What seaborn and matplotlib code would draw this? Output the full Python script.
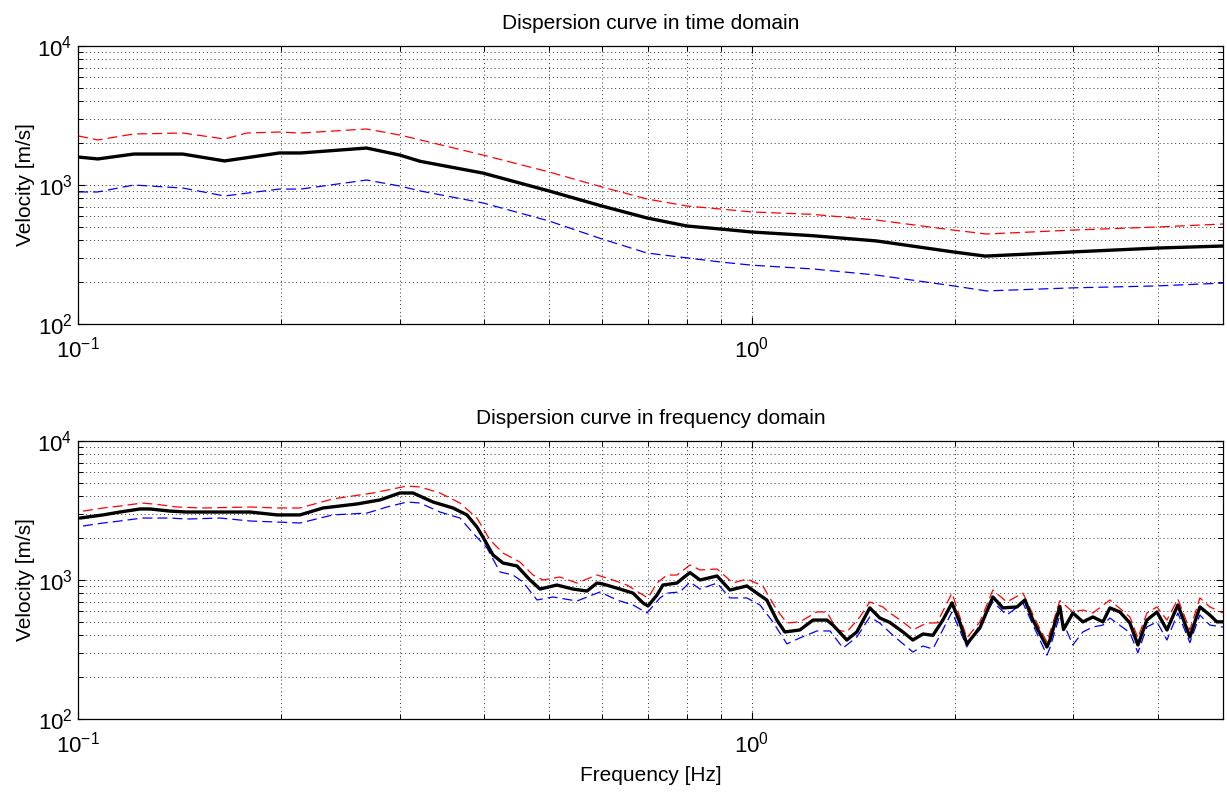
import numpy as np
import pandas as pd
import matplotlib
matplotlib.use("Agg")
import matplotlib.pyplot as plt
import matplotlib.ticker as mticker
import seaborn as sns

# ---------------- data: time domain ----------------
time_mean_f = [0.1, 0.107, 0.121, 0.143, 0.165, 0.199, 0.214, 0.268, 0.300, 0.322,
               0.399, 0.500, 0.599, 0.699, 0.801, 0.900, 1.0, 1.23, 1.53, 1.99,
               2.22, 2.99, 4.0, 5.0]
time_mean_v = [1590, 1540, 1670, 1670, 1490, 1700, 1700, 1845, 1643, 1480,
               1218, 906, 706, 579, 507, 482, 459, 432, 396, 330,
               308, 330, 352, 364]

time_upper_f = [0.1, 0.107, 0.121, 0.143, 0.165, 0.178, 0.199, 0.214, 0.268, 0.300,
                0.322, 0.399, 0.500, 0.599, 0.699, 0.801, 0.900, 1.0, 1.23, 1.53,
                1.99, 2.23, 2.99, 4.0, 5.0]
time_upper_v = [2256, 2110, 2328, 2366, 2143, 2366, 2405, 2366, 2529, 2290,
                2110, 1643, 1241, 968, 793, 706, 671, 640, 615, 560,
                474, 444, 474, 499, 524]

time_lower_f = [0.1, 0.107, 0.121, 0.143, 0.165, 0.199, 0.214, 0.268, 0.300, 0.322,
                0.399, 0.500, 0.599, 0.699, 0.801, 0.900, 1.0, 1.23, 1.53, 1.99,
                2.23, 2.99, 4.0, 5.0]
time_lower_v = [891, 891, 1000, 951, 834, 935, 935, 1086, 984, 906,
                743, 551, 409, 324, 299, 279, 265, 249, 225, 188,
                173, 182, 188, 197]

# ---------------- data: frequency domain ----------------
freq_mean_f = [0.1007, 0.1089, 0.1154, 0.1236, 0.1279, 0.1369, 0.1451, 0.1570, 0.1800, 0.1974,
               0.2135, 0.2309, 0.2594, 0.2807, 0.3004, 0.3141, 0.3363, 0.3601, 0.3777, 0.3908,
               0.3989, 0.4128, 0.4272, 0.4481, 0.4685, 0.4848, 0.5135, 0.5425, 0.5692, 0.5889,
               0.6011, 0.6371, 0.6660, 0.6892, 0.7011, 0.7230, 0.7379, 0.7741, 0.7901, 0.8093,
               0.8375, 0.8877, 0.9276, 0.9830, 1.017, 1.052, 1.089, 1.119, 1.178, 1.232,
               1.292, 1.319, 1.383, 1.431, 1.496, 1.548, 1.602, 1.675, 1.733, 1.794,
               1.856, 1.920, 1.981, 2.036, 2.084, 2.179, 2.278, 2.357, 2.473, 2.541,
               2.612, 2.740, 2.768, 2.864, 2.90, 2.994, 3.098, 3.206, 3.318, 3.398,
               3.516, 3.638, 3.739, 3.856, 3.990, 4.129, 4.286, 4.466, 4.621, 4.781,
               4.897, 4.998]
freq_mean_v = [2790, 2939, 3083, 3243, 3243, 3131, 3083, 3083, 3083, 2939,
               2939, 3296, 3524, 3767, 4226, 4226, 3640, 3296, 2939, 2405,
               2037, 1514, 1325, 1262, 1000, 861, 920, 861, 833, 951,
               935, 861, 805, 684, 650, 780, 920, 951, 1033, 1130,
               1000, 1069, 847, 906, 805, 718, 515, 423, 437, 515,
               515, 474, 370, 423, 630, 533, 495, 423, 370, 409,
               400, 515, 684, 491, 347, 452, 755, 630, 640, 718,
               515, 330, 370, 645, 440, 579, 500, 542, 500, 630,
               589, 491, 341, 515, 589, 437, 661, 389, 640, 560,
               500, 500]

freq_upper_f = [0.1017, 0.1089, 0.1154, 0.1245, 0.1310, 0.1402, 0.1532, 0.1800, 0.1974, 0.2135,
                0.2389, 0.2740, 0.3077, 0.3217, 0.3444, 0.3688, 0.3908, 0.4086, 0.4272, 0.4527,
                0.4733, 0.4897, 0.5188, 0.5500, 0.5889, 0.6157, 0.6525, 0.6892, 0.7011, 0.7230,
                0.7482, 0.7741, 0.8093, 0.8375, 0.8877, 0.9371, 0.9830, 1.038, 1.089, 1.127,
                1.178, 1.249, 1.292, 1.337, 1.383, 1.446, 1.496, 1.564, 1.602, 1.675,
                1.733, 1.818, 1.882, 1.981, 2.084, 2.179, 2.278, 2.389, 2.524, 2.648,
                2.740, 2.864, 2.994, 3.098, 3.206, 3.398, 3.638, 3.739, 3.856, 3.990,
                4.129, 4.286, 4.466, 4.621, 4.781, 4.998]
freq_upper_v = [3131, 3296, 3404, 3578, 3500, 3350, 3296, 3350, 3296, 3296,
                3831, 4226, 4744, 4668, 4226, 3578, 2790, 1941, 1563, 1346,
                1086, 1000, 1051, 951, 1086, 1017, 920, 780, 743, 951,
                1086, 1086, 1282, 1181, 1200, 951, 1017, 906, 608, 491,
                500, 589, 589, 437, 423, 542, 695, 640, 579, 500,
                437, 491, 491, 805, 383, 500, 847, 695, 805, 491,
                358, 710, 589, 608, 579, 718, 542, 383, 579, 640,
                515, 729, 437, 743, 640, 579]

freq_lower_f = [0.1017, 0.1089, 0.1154, 0.1245, 0.1369, 0.1451, 0.1624, 0.1800, 0.1974, 0.2135,
                0.2389, 0.2685, 0.2874, 0.3077, 0.3217, 0.3444, 0.3688, 0.3855, 0.4044, 0.4228,
                0.4420, 0.4574, 0.4798, 0.5066, 0.5500, 0.5950, 0.6306, 0.6660, 0.6987, 0.7304,
                0.7482, 0.7821, 0.8093, 0.8375, 0.8877, 0.9276, 0.9830, 1.028, 1.074, 1.127,
                1.178, 1.249, 1.306, 1.365, 1.431, 1.496, 1.548, 1.619, 1.733, 1.794,
                1.856, 1.981, 2.084, 2.278, 2.389, 2.524, 2.740, 2.768, 2.864, 2.994,
                3.098, 3.206, 3.318, 3.398, 3.638, 3.739, 3.856, 3.990, 4.129, 4.286,
                4.466, 4.621, 4.781, 4.998]
freq_lower_v = [2445, 2570, 2657, 2790, 2790, 2745, 2790, 2657, 2612, 2570,
                2939, 3032, 3350, 3640, 3578, 3083, 2790, 2178, 1700, 1143,
                1086, 967, 718, 755, 706, 820, 718, 661, 579, 743,
                805, 820, 967, 860, 951, 743, 743, 661, 500, 347,
                383, 430, 430, 324, 389, 542, 490, 400, 303, 335,
                319, 589, 330, 695, 560, 684, 288, 324, 560, 341,
                423, 459, 474, 533, 418, 300, 459, 500, 370, 579,
                354, 560, 474, 459]

titles = ["Dispersion curve in time domain", "Dispersion curve in frequency domain"]
y_label = "Velocity [m/s]"
x_label = "Frequency [Hz]"

# ---------------- style ----------------
sns.set_theme(style="white")
plt.rcParams["font.family"] = ["Liberation Sans", "DejaVu Sans"]
plt.rcParams["axes.edgecolor"] = "black"
plt.rcParams["axes.linewidth"] = 0.9

fig = plt.figure(figsize=(12.27, 7.93), dpi=100)
ax_top = fig.add_axes([0.0636, 0.5914, 0.9331, 0.3506])
ax_bot = fig.add_axes([0.0636, 0.0933, 0.9331, 0.3506])

panels = [
    (ax_top, (time_mean_f, time_mean_v), (time_upper_f, time_upper_v), (time_lower_f, time_lower_v)),
    (ax_bot, (freq_mean_f, freq_mean_v), (freq_upper_f, freq_upper_v), (freq_lower_f, freq_lower_v)),
]


def log_label(val, pos):
    if val <= 0:
        return ""
    e = int(round(np.log10(val)))
    if abs(10 ** e - val) / val > 1e-6:
        return ""
    return r"$\mathregular{10^{%d}}$" % e


for i, (ax, mean, upper, lower) in enumerate(panels):
    ax.set_xscale("log")
    ax.set_yscale("log")
    df_u = pd.DataFrame({"f": upper[0], "v": upper[1]})
    df_l = pd.DataFrame({"f": lower[0], "v": lower[1]})
    df_m = pd.DataFrame({"f": mean[0], "v": mean[1]})
    sns.lineplot(data=df_u, x="f", y="v", ax=ax, color="#ff0000", lw=0.9,
                 linestyle=(0, (8, 4)), estimator=None, sort=True)
    sns.lineplot(data=df_l, x="f", y="v", ax=ax, color="#0000ff", lw=0.9,
                 linestyle=(0, (8, 4)), estimator=None, sort=True)
    sns.lineplot(data=df_m, x="f", y="v", ax=ax, color="black", lw=2.4,
                 estimator=None, sort=True)
    ax.set_xlim(0.1, 5.0)
    ax.set_ylim(100, 10000)

    ax.xaxis.set_major_locator(mticker.LogLocator(base=10, numticks=10))
    ax.xaxis.set_minor_locator(mticker.LogLocator(base=10, subs=np.arange(2, 10), numticks=20))
    ax.yaxis.set_major_locator(mticker.LogLocator(base=10, numticks=10))
    ax.yaxis.set_minor_locator(mticker.LogLocator(base=10, subs=np.arange(2, 10), numticks=20))
    ax.xaxis.set_major_formatter(mticker.FuncFormatter(log_label))
    ax.yaxis.set_major_formatter(mticker.FuncFormatter(log_label))
    ax.xaxis.set_minor_formatter(mticker.NullFormatter())
    ax.yaxis.set_minor_formatter(mticker.NullFormatter())

    ax.grid(True, which="both", color="#333333", linestyle=(0, (1, 3)), lw=0.7)
    ax.tick_params(which="both", direction="in", top=True, right=True,
                   bottom=True, left=True, colors="black", labelsize=16)
    ax.tick_params(which="major", length=5, width=0.8)
    ax.tick_params(which="minor", length=3.5, width=0.7)
    ax.tick_params(axis="x", which="major", pad=9)
    ax.tick_params(axis="y", which="major", pad=4)
    for s in ax.spines.values():
        s.set_visible(True)
        s.set_color("black")

    ax.set_title(titles[i], fontsize=15, pad=12, color="black")
    ax.set_ylabel(y_label, fontsize=15, labelpad=2, color="black")
    ax.set_xlabel("")

ax_bot.set_xlabel(x_label, fontsize=15, labelpad=6, color="black")

fig.savefig("out.png", dpi=100)
